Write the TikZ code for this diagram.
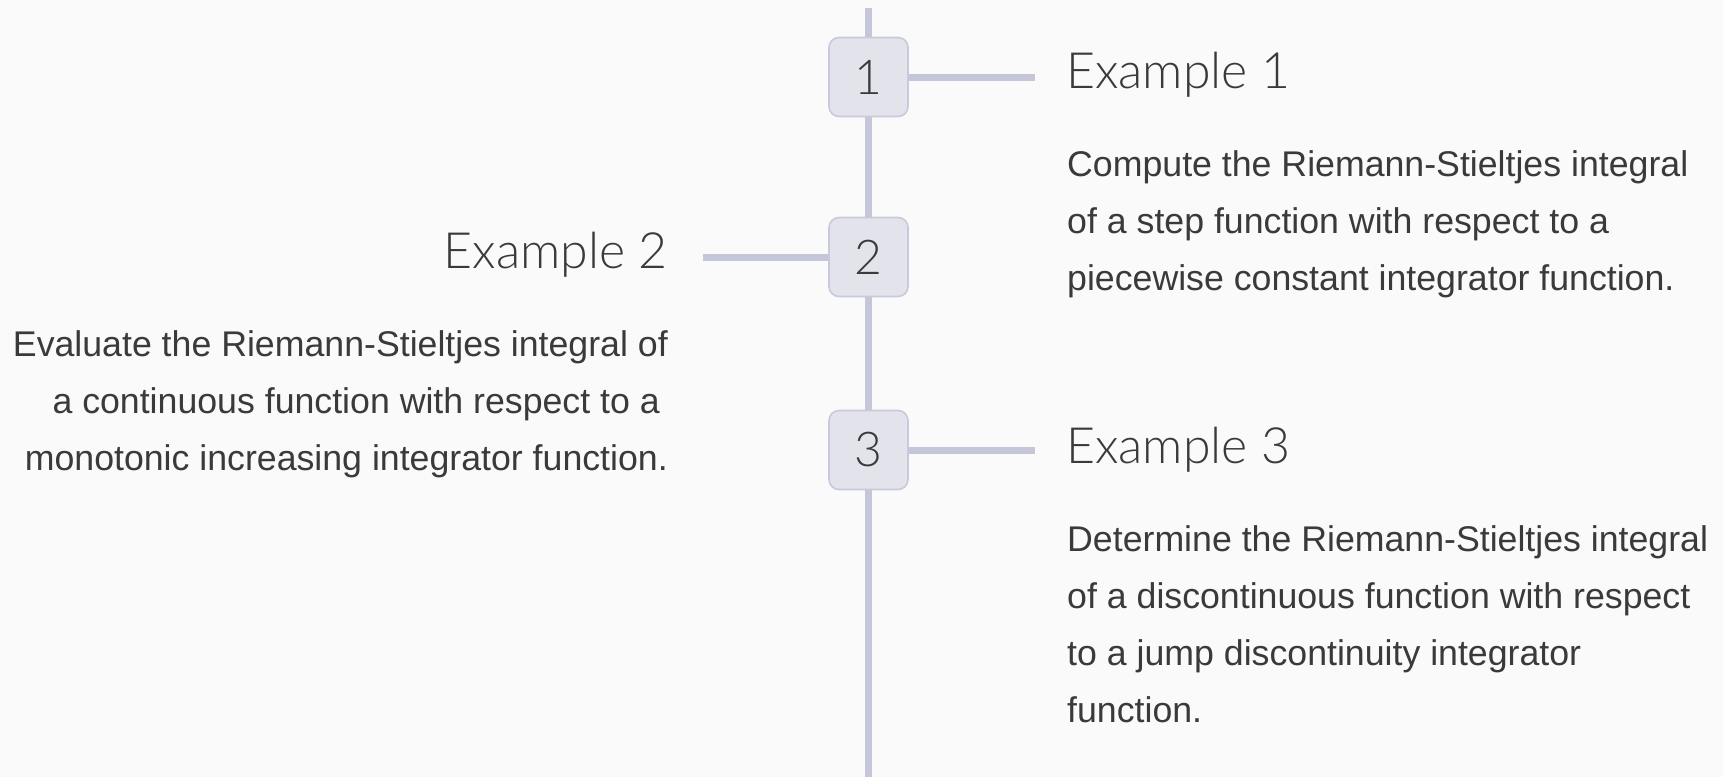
\documentclass[tikz,border=0pt]{standalone}
\usepackage{fontspec}
\setmainfont{Liberation Sans}
\newfontfamily\headfont{Lato Light}
\definecolor{bgc}{HTML}{FAFAFA}
\definecolor{railc}{HTML}{C6C6DA}
\definecolor{boxfill}{HTML}{E3E3EC}
\definecolor{boxedge}{HTML}{C9C9DD}
\definecolor{ink}{HTML}{3A3A3A}
\begin{document}
\begin{tikzpicture}[x=1pt,y=-1pt,
  rail/.style={draw=railc, line width=7pt},
  numbox/.style={draw=boxedge, fill=boxfill, line width=1.6pt, rounded corners=10pt,
    minimum width=79pt, minimum height=79pt, inner sep=0pt, text=ink,
    font=\headfont\fontsize{48}{48}\selectfont},
  headl/.style={inner sep=0pt, text=ink, font=\headfont\fontsize{50}{52}\selectfont},
  body/.style={inner sep=0pt, text=ink, font=\fontsize{35.7}{57}\selectfont}]
  % page
  \fill[bgc] (0,0) rectangle (1723,777);
  \useasboundingbox (0,0) rectangle (1723,777);
  % timeline spine
  \coordinate (top) at (868.5,8);
  \coordinate (bot) at (868.5,777);
  \draw[rail] (top) -- (bot);
  % step markers
  \node[numbox] (n1) at (868.5,77) {\raisebox{-4pt}{1}};
  \node[numbox] (n2) at (868.5,257) {\raisebox{-4pt}{2}};
  \node[numbox] (n3) at (868.5,450) {\raisebox{-4pt}{3}};
  % branch stubs
  \coordinate (c1) at (1035,77);
  \coordinate (c2) at (703,257);
  \coordinate (c3) at (1035,450);
  \draw[rail] (n1.east) -- (c1);
  \draw[rail] (c2) -- (n2.west);
  \draw[rail] (n3.east) -- (c3);
  % headings
  \node[headl, anchor=base west] (t1) at (1066,88.3) {Example 1};
  \node[headl, anchor=base east] (t2) at (668,268.3) {Example 2};
  \node[headl, anchor=base west] (t3) at (1066,463.3) {Example 3};
  % descriptions
  \node[body, anchor=base west] (d1) at (1067,176.7) {\parbox[t]{650pt}{\raggedright
    Compute the Riemann-Stieltjes integral\\
    of a step function with respect to a\\
    piecewise constant integrator function.}};
  \node[body, anchor=base east] (d2) at (668,356) {\parbox[t]{660pt}{\raggedleft
    Evaluate the Riemann-Stieltjes integral of\\
    a continuous function with respect to a\kern8pt\\
    monotonic increasing integrator function.}};
  \node[body, anchor=base west] (d3) at (1067,551.7) {\parbox[t]{650pt}{\raggedright
    Determine the Riemann-Stieltjes integral\\
    of a discontinuous function with respect\\
    to a jump discontinuity integrator\\
    function.}};
\end{tikzpicture}
\end{document}
